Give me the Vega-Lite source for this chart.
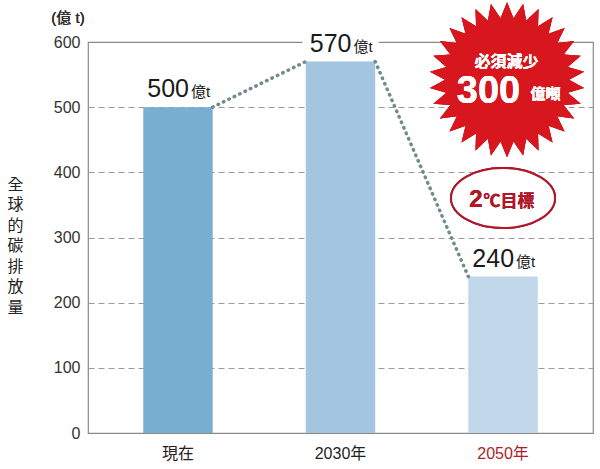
{
  "$schema": "https://vega.github.io/schema/vega-lite/v6.json",
  "width": 505,
  "height": 391,
  "autosize": {"type": "none"},
  "padding": {"left": 88, "top": 42, "right": 7, "bottom": 36},
  "background": "white",
  "config": {
    "view": {"stroke": "#8a8a8a", "strokeWidth": 1.2},
    "font": "Liberation Sans, Noto Sans CJK TC"
  },
  "resolve": {"scale": {"xOffset": "independent"}},
  "data": {"values": [
    {"period": "現在", "emission": 500},
    {"period": "2030年", "emission": 570},
    {"period": "2050年", "emission": 240}
  ]},
  "layer": [
    {
      "mark": {"type": "bar"},
      "encoding": {
        "x": {"field": "period", "type": "nominal", "sort": ["現在", "2030年", "2050年"],
          "scale": {"domain": ["現在", "2030年", "2050年"], "paddingInner": 0.573, "paddingOuter": 0.34},
          "axis": {"title": null, "domain": false, "ticks": false, "labelFontSize": 16, "labelPadding": 12, "labelAngle": 0,
            "labelColor": {"condition": {"test": "datum.value === '2050年'", "value": "#b01e2c"}, "value": "#222"}}},
        "y": {"field": "emission", "type": "quantitative", "scale": {"domain": [0, 600]},
          "axis": {"values": [0, 100, 200, 300, 400, 500, 600], "grid": true, "gridDash": [6, 4], "gridColor": "#9a9a9a", "gridWidth": 1.2,
            "gridOpacity": {"condition": {"test": "datum.value === 0 || datum.value === 600", "value": 0}, "value": 1},
            "domain": false, "ticks": false, "labelFontSize": 16, "labelColor": "#333", "labelPadding": 8,
            "title": ["全", "球", "的", "碳", "排", "放", "量"], "titleAngle": 0, "titleFontSize": 16, "titleFontWeight": "normal",
            "titleLineHeight": 20.5, "titleX": -73, "titleY": 142, "titleAlign": "center", "titleBaseline": "middle", "titleColor": "#222"}},
        "color": {"field": "period", "type": "nominal", "scale": {"domain": ["現在", "2030年", "2050年"], "range": ["#78aed0", "#a4c5df", "#c1d6e9"]}, "legend": null}
      }
    },
    {
      "mark": {"type": "text", "align": "center", "baseline": "middle", "dx": -110, "dy": -24, "fontSize": 15, "fontWeight": "normal", "color": "#333", "text": "(億 t)"},
      "encoding": {"x": {"datum": "現在"}, "y": {"datum": 600}}
    },
    {
      "transform": [{"filter": "datum.period === '2030年'"}],
      "mark": {"type": "bar", "color": "white", "width": 76},
      "encoding": {
        "x": {"field": "period", "type": "nominal", "sort": ["現在", "2030年", "2050年"]},
        "y": {"datum": 589},
        "y2": {"datum": 611}
      }
    },
    {
      "data": {"values": [
        {"period": "現在", "edge": "right", "emission": 500, "seg": "a"},
        {"period": "2030年", "edge": "left", "emission": 570, "seg": "a"},
        {"period": "2030年", "edge": "right", "emission": 570, "seg": "b"},
        {"period": "2050年", "edge": "left", "emission": 240, "seg": "b"}
      ]},
      "mark": {"type": "line", "strokeDash": [0.5, 5.5], "strokeCap": "round", "strokeWidth": 3.5, "color": "#6f8d8d"},
      "encoding": {
        "x": {"field": "period", "type": "nominal", "sort": ["現在", "2030年", "2050年"]},
        "xOffset": {"field": "edge", "type": "nominal", "scale": {"type": "point", "padding": 0, "domain": ["left", "right"], "range": [0, 69.4]}},
        "y": {"field": "emission", "type": "quantitative"},
        "detail": {"field": "seg", "type": "nominal"}
      }
    },
    {
      "mark": {"type": "text", "align": "right", "baseline": "alphabetic", "dx": 11, "dy": -10, "fontSize": 25, "color": "#1a1a1a"},
      "encoding": {
        "x": {"field": "period", "type": "nominal", "sort": ["現在", "2030年", "2050年"]},
        "y": {"field": "emission", "type": "quantitative"},
        "text": {"field": "emission", "type": "quantitative"}
      }
    },
    {
      "mark": {"type": "text", "align": "left", "baseline": "alphabetic", "dx": 13, "dy": -10, "fontSize": 15, "text": "億t", "color": "#1a1a1a"},
      "encoding": {
        "x": {"field": "period", "type": "nominal", "sort": ["現在", "2030年", "2050年"]},
        "y": {"field": "emission", "type": "quantitative"}
      }
    },
    {
      "mark": {"type": "point", "filled": true, "color": "#d7161d", "opacity": 1, "size": 24000, "xOffset": 4,
        "shape": "M 0.8 0 L 0.9945 0.1045 L 0.7825 0.1663 L 0.9511 0.309 L 0.7308 0.3254 L 0.866 0.5 L 0.6472 0.4702 L 0.7431 0.6691 L 0.5353 0.5945 L 0.5878 0.809 L 0.4 0.6928 L 0.4067 0.9135 L 0.2472 0.7609 L 0.2079 0.9781 L 0.0836 0.7956 L 0 1 L -0.0836 0.7956 L -0.2079 0.9781 L -0.2472 0.7609 L -0.4067 0.9135 L -0.4 0.6928 L -0.5878 0.809 L -0.5353 0.5945 L -0.7431 0.6691 L -0.6472 0.4702 L -0.866 0.5 L -0.7308 0.3254 L -0.9511 0.309 L -0.7825 0.1663 L -0.9945 0.1045 L -0.8 0 L -0.9945 -0.1045 L -0.7825 -0.1663 L -0.9511 -0.309 L -0.7308 -0.3254 L -0.866 -0.5 L -0.6472 -0.4702 L -0.7431 -0.6691 L -0.5353 -0.5945 L -0.5878 -0.809 L -0.4 -0.6928 L -0.4067 -0.9135 L -0.2472 -0.7609 L -0.2079 -0.9781 L -0.0836 -0.7956 L 0 -1 L 0.0836 -0.7956 L 0.2079 -0.9781 L 0.2472 -0.7609 L 0.4067 -0.9135 L 0.4 -0.6928 L 0.5878 -0.809 L 0.5353 -0.5945 L 0.7431 -0.6691 L 0.6472 -0.4702 L 0.866 -0.5 L 0.7308 -0.3254 L 0.9511 -0.309 L 0.7825 -0.1663 L 0.9945 -0.1045 Z"},
      "encoding": {"x": {"datum": "2050年"}, "y": {"datum": 542}}
    },
    {
      "mark": {"type": "text", "align": "center", "baseline": "middle", "dx": 3.5, "dy": -18, "fontSize": 16, "fontWeight": "bold", "color": "white", "text": "必須減少"},
      "encoding": {"x": {"datum": "2050年"}, "y": {"datum": 542}}
    },
    {
      "mark": {"type": "text", "align": "center", "baseline": "alphabetic", "dx": -14.5, "dy": 23, "fontSize": 38, "fontWeight": "bold", "color": "white", "text": "300"},
      "encoding": {"x": {"datum": "2050年"}, "y": {"datum": 542}}
    },
    {
      "mark": {"type": "text", "align": "left", "baseline": "alphabetic", "dx": 27.5, "dy": 19, "fontSize": 15, "fontWeight": "bold", "color": "white", "text": "億噸"},
      "encoding": {"x": {"datum": "2050年"}, "y": {"datum": 542}}
    },
    {
      "mark": {"type": "point", "filled": false, "fill": "white", "stroke": "#b0182a", "strokeWidth": 2, "opacity": 1, "size": 10816,
        "shape": "M -1 0 A 1 0.577 0 1 1 1 0 A 1 0.577 0 1 1 -1 0 Z"},
      "encoding": {"x": {"datum": "2050年"}, "y": {"datum": 360.6}}
    },
    {
      "mark": {"type": "text", "align": "right", "baseline": "alphabetic", "dx": -20.5, "dy": 9, "fontSize": 24, "fontWeight": "bold", "color": "#b0182a", "text": "2"},
      "encoding": {"x": {"datum": "2050年"}, "y": {"datum": 360.6}}
    },
    {
      "mark": {"type": "text", "align": "left", "baseline": "alphabetic", "dx": -19.5, "dy": 9, "fontSize": 17, "fontWeight": "bold", "color": "#b0182a", "text": "℃目標"},
      "encoding": {"x": {"datum": "2050年"}, "y": {"datum": 360.6}}
    }
  ]
}
